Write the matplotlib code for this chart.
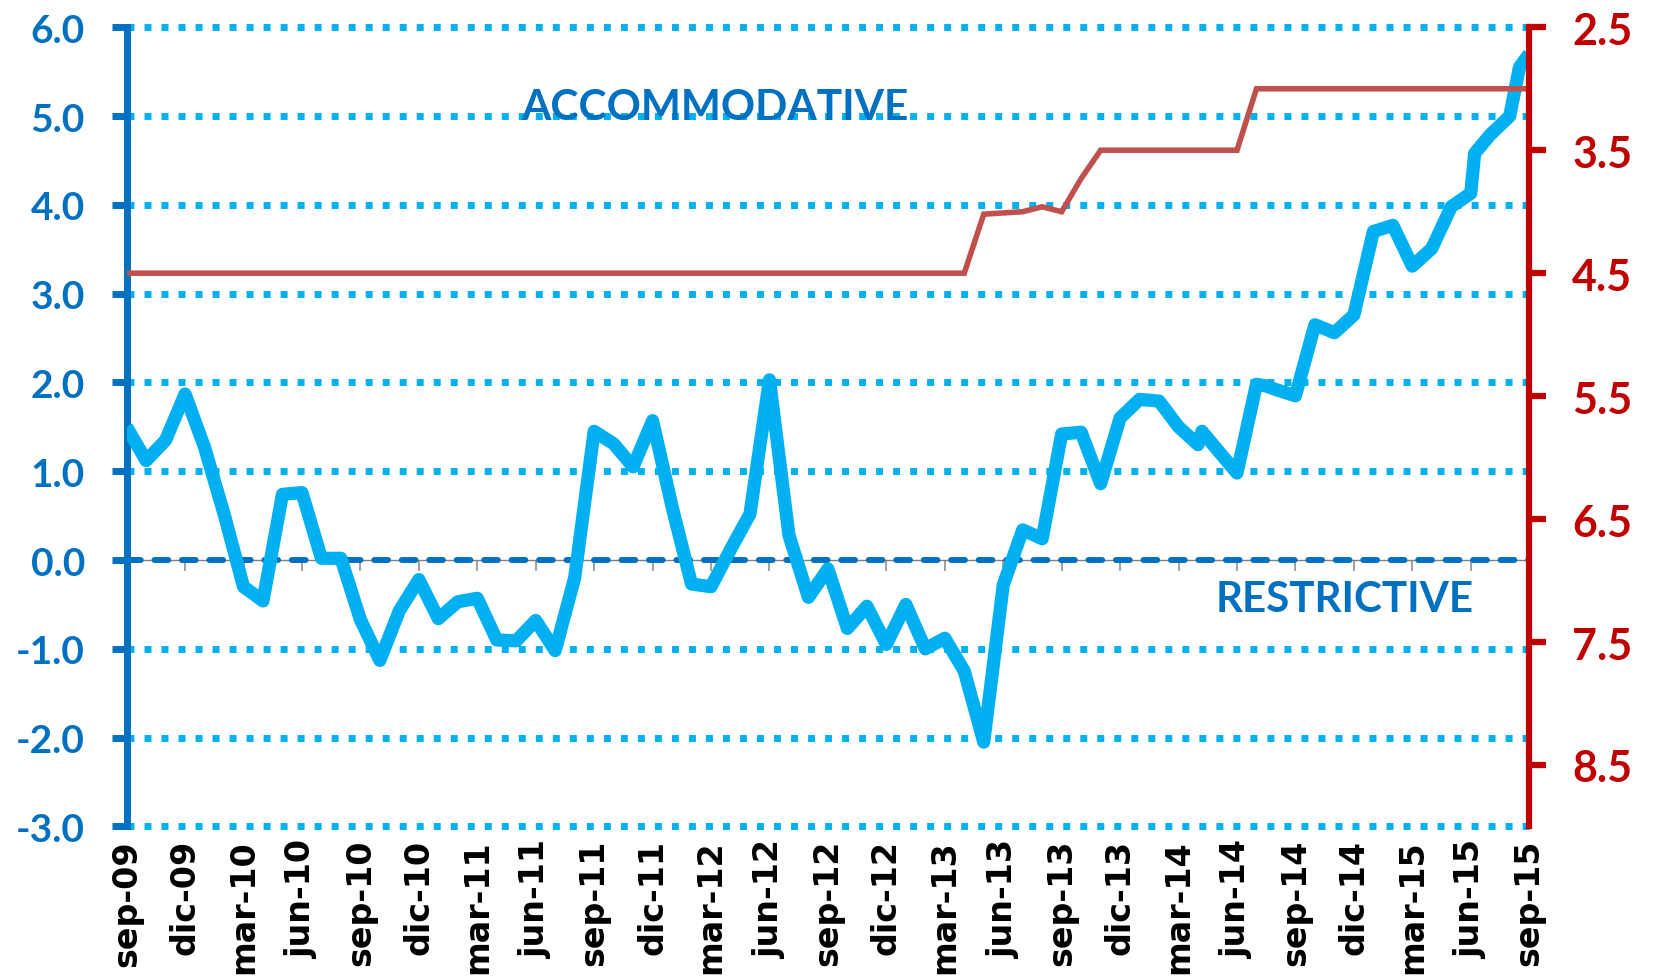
import matplotlib.pyplot as plt

# Etiquetas del eje x (cada trimestre)
etiquetas_x = ["sep-09", "dic-09", "mar-10", "jun-10", "sep-10", "dic-10", "mar-11",
               "jun-11", "sep-11", "dic-11", "mar-12", "jun-12", "sep-12", "dic-12",
               "mar-13", "jun-13", "sep-13", "dic-13", "mar-14", "jun-14", "sep-14",
               "dic-14", "mar-15", "jun-15", "sep-15"]
pos_x = [0, 3, 6, 9, 12, 15, 18, 21, 24, 27, 30, 33, 36, 39, 42, 45, 48, 51,
         54, 57, 60, 63, 66, 69, 72]

# Indicador de postura monetaria (eje izquierdo), meses desde sep-09
meses_ind = [0, 1, 2, 3, 4, 5, 6, 7, 8, 9, 10, 11, 12, 13, 14, 15, 16, 17, 18, 19,
             20, 21, 22, 23, 24, 25, 26, 27, 28, 29, 30, 31, 32, 33, 34, 35, 36, 37,
             38, 39, 40, 41, 42, 43, 44, 45, 46, 47, 48, 49, 50, 51, 52, 53, 54, 55,
             55.2, 56, 57, 58, 58.5, 59, 60, 61, 62, 63, 64, 65, 66, 67, 68, 69, 69.2,
             70, 71, 71.5, 72]
indicador = [1.50, 1.12, 1.35, 1.87, 1.27, 0.52, -0.30, -0.46, 0.74, 0.76, 0.02, 0.02,
             -0.67, -1.13, -0.57, -0.22, -0.66, -0.47, -0.43, -0.90, -0.91, -0.68,
             -1.02, -0.20, 1.45, 1.31, 1.05, 1.57, 0.60, -0.27, -0.30, 0.12, 0.52,
             2.03, 0.28, -0.42, -0.10, -0.77, -0.52, -0.95, -0.50, -1.00, -0.88,
             -1.25, -2.05, -0.28, 0.34, 0.24, 1.42, 1.44, 0.86, 1.60, 1.81, 1.79,
             1.50, 1.30, 1.45, 1.24, 0.98, 1.98, 1.96, 1.92, 1.85, 2.65, 2.56, 2.76,
             3.70, 3.77, 3.31, 3.51, 3.98, 4.13, 4.58, 4.79, 5.00, 5.55, 5.70]

# Tasa de referencia (eje derecho, invertido)
meses_tasa = list(range(73))
tasa = [4.5, 4.5, 4.5, 4.5, 4.5, 4.5, 4.5, 4.5, 4.5, 4.5, 4.5, 4.5, 4.5, 4.5, 4.5,
        4.5, 4.5, 4.5, 4.5, 4.5, 4.5, 4.5, 4.5, 4.5, 4.5, 4.5, 4.5, 4.5, 4.5, 4.5,
        4.5, 4.5, 4.5, 4.5, 4.5, 4.5, 4.5, 4.5, 4.5, 4.5, 4.5, 4.5, 4.5, 4.5,
        4.02, 4.01, 4.00, 3.96, 4.00, 3.73, 3.5, 3.5, 3.5, 3.5, 3.5, 3.5, 3.5, 3.5,
        3.0, 3.0, 3.0, 3.0, 3.0, 3.0, 3.0, 3.0, 3.0, 3.0, 3.0, 3.0, 3.0, 3.0, 3.0]

niveles_izq = [-3, -2, -1, 0, 1, 2, 3, 4, 5, 6]
etiq_izq = ["-3.0", "-2.0", "-1.0", "0.0", "1.0", "2.0", "3.0", "4.0", "5.0", "6.0"]
niveles_der = [2.5, 3.5, 4.5, 5.5, 6.5, 7.5, 8.5]
etiq_der = ["2.5", "3.5", "4.5", "5.5", "6.5", "7.5", "8.5"]

AZUL = "#0070C0"
CELESTE = "#00B0F0"
ROJO = "#C00000"

fig = plt.figure(figsize=(16.53, 9.79), dpi=100)
ax = fig.add_axes([0.0766, 0.1548, 0.8485, 0.8163])
ax.set_xlim(0, 72)
ax.set_ylim(-3, 6)

# lineas punteadas horizontales
for v in niveles_izq:
    if v == 0:
        continue
    ax.axhline(v, color=CELESTE, lw=5, ls=(0, (1.0, 1.45)), zorder=1, clip_on=False)

# linea del cero
ax.axhline(0, color=AZUL, lw=4.3, ls=(0, (2.3, 2.3)), dash_capstyle="round", zorder=2.6)

ax.plot(meses_ind, indicador, color=CELESTE, lw=9.5, solid_joinstyle="round",
        solid_capstyle="butt", zorder=3)

ax.text(30.2, 5.1, "ACCOMMODATIVE", color=AZUL, fontsize=30.5, fontweight="bold",
        family="Lato", ha="center", va="center", zorder=4)
ax.text(62.55, -0.44, "RESTRICTIVE", color=AZUL, fontsize=30.3, fontweight="bold",
        family="Lato", ha="center", va="center", zorder=4)

# ejes
for lado in ["top", "right"]:
    ax.spines[lado].set_visible(False)
ax.spines["left"].set_color(AZUL)
ax.spines["left"].set_linewidth(5)
ax.spines["bottom"].set_position(("data", 0))
ax.spines["bottom"].set_color("#808080")
ax.spines["bottom"].set_linewidth(1)

ax.set_xticks(pos_x)
ax.tick_params(axis="x", direction="out", length=8, width=1.2, color="#909090",
               labelbottom=False)
ax.set_yticks(niveles_izq, etiq_izq, family="Lato", fontweight="bold", fontsize=28,
              color=AZUL)
ax.tick_params(axis="y", direction="out", length=11, width=5, color=AZUL, pad=19)

sec = ax.secondary_xaxis(0.0)
sec.set_xticks(pos_x, etiquetas_x, fontweight="bold", fontsize=24, rotation=90)
sec.tick_params(length=0, pad=9)
sec.spines["bottom"].set_visible(False)

ax2 = ax.twinx()
ax2.set_ylim(9.0, 2.5)
ax2.plot(meses_tasa, tasa, color="#C0504D", lw=4, solid_joinstyle="miter")
for lado in ["top", "left", "bottom"]:
    ax2.spines[lado].set_visible(False)
ax2.spines["right"].set_color(ROJO)
ax2.spines["right"].set_linewidth(4.5)
ax2.set_yticks(niveles_der, etiq_der, family="Lato", fontweight="bold", fontsize=31,
               color=ROJO)
ax2.tick_params(axis="y", direction="out", length=12, width=4.5, color=ROJO, pad=19)

fig.savefig("out.png", dpi=100)
